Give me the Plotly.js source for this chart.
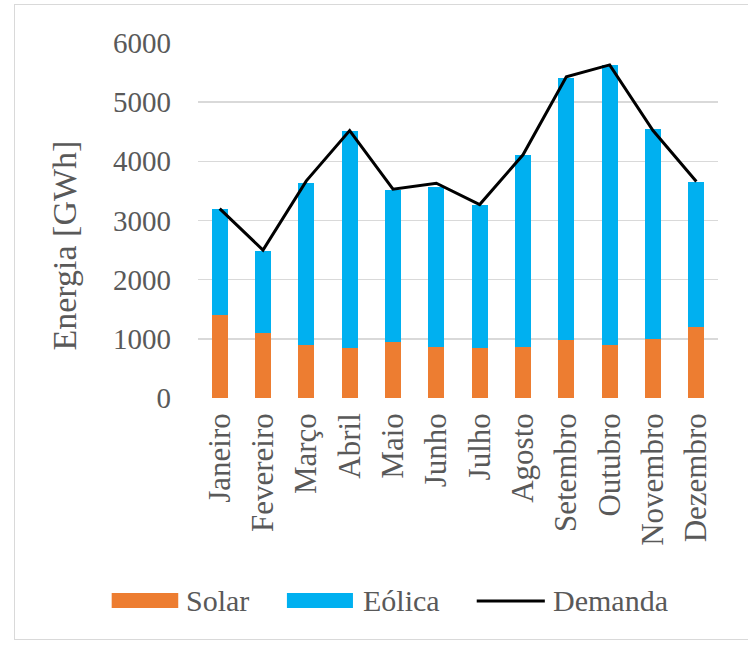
<!DOCTYPE html>
<html>
<head>
<meta charset="utf-8">
<script src="https://cdn.plot.ly/plotly-3.0.1.min.js"></script>
<style>
  html, body { margin: 0; padding: 0; background: #ffffff; }
  #wrap { position: relative; width: 748px; height: 645px; overflow: hidden; }
  #frame { position: absolute; left: 14px; top: 4px; width: 740px; height: 636px; border: 1px solid #d9d9d9; box-sizing: border-box; }
  #chart { position: absolute; left: 0; top: 0; width: 748px; height: 645px; }
</style>
</head>
<body>
<div id="wrap">
  <div id="frame"></div>
  <div id="chart"></div>
</div>
<script>
const months = ["Janeiro", "Fevereiro", "Março", "Abril", "Maio", "Junho", "Julho", "Agosto", "Setembro", "Outubro", "Novembro", "Dezembro"];
const solar = [1410, 1100, 900, 840, 950, 860, 840, 870, 980, 900, 990, 1200];
const eolica = [1780, 1380, 2740, 3670, 2560, 2710, 2420, 3240, 4430, 4720, 3560, 2450];
const demanda = [3200, 2500, 3670, 4520, 3530, 3630, 3270, 4110, 5430, 5630, 4520, 3660];
const yTicks = [0, 1000, 2000, 3000, 4000, 5000, 6000];
const seriesNames = ["Solar", "Eólica", "Demanda"];
const seriesColors = ["#ED7D31", "#00B0F0", "#000000"];

const FONT = "Liberation Serif, Times New Roman, serif";
const TXT = "#595959";

const traces = [
  { type: "bar", name: seriesNames[0], x: months, y: solar, marker: { color: seriesColors[0] } },
  { type: "bar", name: seriesNames[1], x: months, y: eolica, marker: { color: seriesColors[1] } },
  { type: "scatter", mode: "lines", name: seriesNames[2], x: months, y: demanda,
    line: { color: seriesColors[2], width: 3 } }
];

// manual legend (wide swatches as in the reference), paper coordinates
const legY = -0.5718;
const shapes = [
  { type: "rect", xref: "paper", yref: "paper", x0: -0.166, x1: -0.038, y0: -0.5915, y1: -0.5493,
    fillcolor: seriesColors[0], line: { width: 0 } },
  { type: "rect", xref: "paper", yref: "paper", x0: 0.171, x1: 0.298, y0: -0.5915, y1: -0.5493,
    fillcolor: seriesColors[1], line: { width: 0 } },
  { type: "line", xref: "paper", yref: "paper", x0: 0.536, x1: 0.667, y0: legY, y1: legY,
    line: { color: seriesColors[2], width: 3 } }
];
const legendText = [
  { x: -0.026, text: seriesNames[0] },
  { x: 0.314, text: seriesNames[1] },
  { x: 0.679, text: seriesNames[2] }
];
const annotations = legendText.map(d => ({
  xref: "paper", yref: "paper", x: d.x, y: legY, xanchor: "left", yanchor: "middle",
  text: d.text, showarrow: false, font: { family: FONT, color: TXT, size: 30 }
}));
annotations.push({
  xref: "paper", yref: "paper", x: -0.2577, y: 0.4296, xanchor: "center", yanchor: "middle",
  text: "Energia [GWh]", textangle: -90, showarrow: false, font: { family: FONT, color: TXT, size: 34 }
});

const layout = {
  width: 748, height: 645,
  paper_bgcolor: "rgba(0,0,0,0)", plot_bgcolor: "rgba(0,0,0,0)",
  margin: { l: 198, r: 30, t: 43, b: 247 },
  barmode: "stack", bargap: 0.63,
  font: { family: FONT, color: TXT, size: 29 },
  showlegend: false,
  shapes: shapes,
  annotations: annotations,
  xaxis: { type: "category", tickangle: -90, showgrid: false, zeroline: false, showline: false,
           ticks: "", ticklabelstandoff: 8, tickfont: { family: FONT, color: TXT, size: 31 }, fixedrange: true },
  yaxis: { range: [0, 6000], tickvals: yTicks, ticktext: yTicks.map(String), showgrid: true,
           gridcolor: "#d9d9d9", gridwidth: 1.5, zeroline: false, showline: false, ticks: "",
           ticklabelstandoff: 26, tickfont: { family: FONT, color: TXT, size: 29 }, fixedrange: true }
};

Plotly.newPlot("chart", traces, layout, { displayModeBar: false, staticPlot: true });
</script>
</body>
</html>
